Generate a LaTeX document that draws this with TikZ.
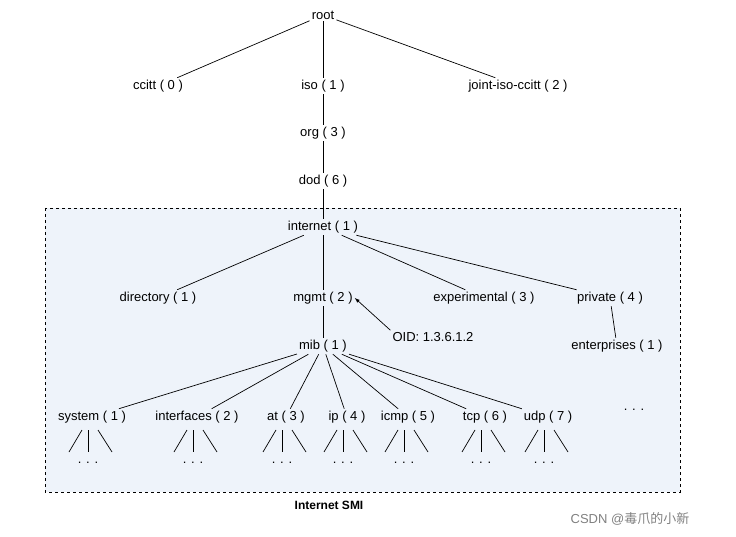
\documentclass[tikz,border=0pt]{standalone}
\usepackage{fontspec}
\setmainfont{Liberation Sans}
\newfontfamily\cjk{Noto Sans CJK SC}
\begin{document}
\begin{tikzpicture}[x=1pt,y=-1pt,
  lab/.style={font=\fontsize{13}{15}\selectfont,inner sep=2pt},
  ln/.style={draw=black,line width=0.7pt}]
\useasboundingbox (0,0) rectangle (736,537);
\draw[dashed,fill={rgb,255:red,238;green,243;blue,250}] (45,208) rectangle (680,492);
\node[lab] (root) at (323,15) {root};
\node[lab] (ccitt) at (158,86) {ccitt ( 0 )};
\node[lab] (iso) at (323,86) {iso ( 1 )};
\node[lab] (joint) at (518,86) {joint-iso-ccitt ( 2 )};
\node[lab] (org) at (323,133) {org ( 3 )};
\node[lab] (dod) at (323,181) {dod ( 6 )};
\node[lab] (internet) at (323,227) {internet ( 1 )};
\node[lab] (directory) at (158,298) {directory ( 1 )};
\node[lab] (mgmt) at (323,298) {mgmt ( 2 )};
\node[lab] (exp) at (484,298) {experimental ( 3 )};
\node[lab] (private) at (610,298) {private ( 4 )};
\node[lab] (oid) at (433,337) {OID: 1.3.6.1.2};
\node[lab] (ent) at (617,346) {enterprises ( 1 )};
\node[lab] (mib) at (323,346) {mib ( 1 )};
\foreach \n/\x/\t in {system/92/system ( 1 ),interfaces/197/interfaces ( 2 ),at/286/at ( 3 ),ip/347/ip ( 4 ),icmp/408/icmp ( 5 ),tcp/485/tcp ( 6 ),udp/548/udp ( 7 )}{
  \node[lab] (\n) at (\x,417) {\t};
  \draw[ln] (mib) -- (\n);
  \coordinate (\n a) at (\x-10,430); \coordinate (\n b) at (\x-23,452);
  \coordinate (\n c) at (\x-4,430); \coordinate (\n d) at (\x-4,452);
  \coordinate (\n e) at (\x+6,430); \coordinate (\n f) at (\x+20,452);
  \draw[ln] (\n a) -- (\n b); \draw[ln] (\n c) -- (\n d); \draw[ln] (\n e) -- (\n f);
  \node[lab] (\n dots) at (\x-4,463) {. . .};
}
\node[lab] (more) at (634,410) {. . .};
\draw[ln] (root) -- (ccitt); \draw[ln] (root) -- (iso); \draw[ln] (root) -- (joint);
\draw[ln] (iso) -- (org); \draw[ln] (org) -- (dod); \draw[ln] (dod) -- (internet);
\draw[ln] (internet) -- (directory); \draw[ln] (internet) -- (mgmt);
\draw[ln] (internet) -- (exp); \draw[ln] (internet) -- (private);
\draw[ln] (mgmt) -- (mib); \draw[ln] (private) -- (ent);
\draw[ln,-latex] (oid.north west) -- (mgmt.east);
\node[font=\bfseries\fontsize{12}{14}\selectfont] (smi) at (329,505) {Internet SMI};
\node[font=\fontsize{13}{15}\selectfont,text=gray] (csdn) at (630,519) {CSDN @{\cjk 毒爪的小新}};
\end{tikzpicture}
\end{document}
